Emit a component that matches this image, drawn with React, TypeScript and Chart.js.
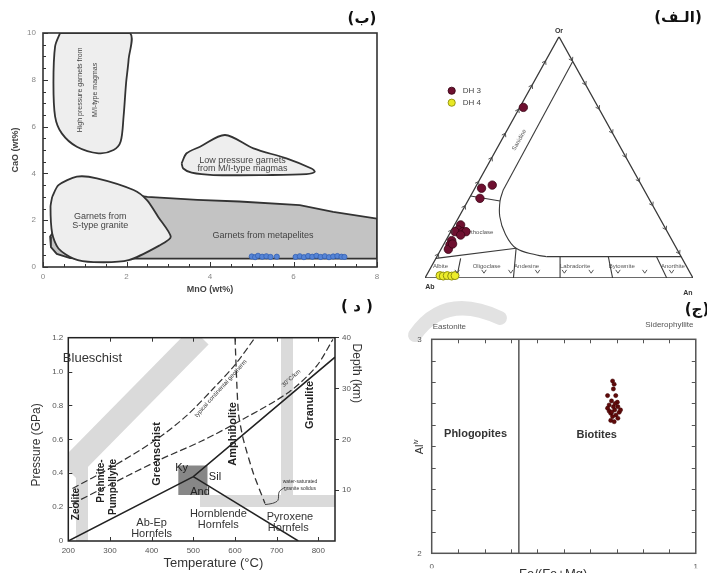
import React, { useEffect, useRef } from 'react';
import { Chart, registerables } from 'chart.js';

Chart.register(...registerables);

const W = 707;
const H = 573;
const SANS = '"Liberation Sans", Arial, Helvetica, sans-serif';
const ARAB = '"DejaVu Sans", sans-serif';
Chart.defaults.font.family = SANS;
Chart.defaults.color = '#555';

type Pt = [number, number];

// ---------- Panel (ب): garnet CaO vs MnO ----------
const garnetMnO = [5.0, 5.08, 5.15, 5.25, 5.35, 5.45, 5.6, 6.05, 6.15, 6.25, 6.35, 6.45, 6.55, 6.65, 6.75, 6.85, 6.95, 7.05, 7.15, 7.22];
const garnetCaO = [0.45, 0.42, 0.48, 0.44, 0.46, 0.43, 0.44, 0.43, 0.46, 0.42, 0.47, 0.44, 0.48, 0.43, 0.46, 0.42, 0.45, 0.47, 0.44, 0.43];
const highPressureField: Pt[] = [[0.41, 10], [0.29, 9.43], [0.25, 7.86], [0.29, 6.43], [0.45, 5.71], [0.81, 5.14], [1.33, 4.86], [1.69, 5.0], [1.86, 5.36], [1.93, 6.43], [1.99, 7.86], [2.05, 8.86], [2.07, 10], [0.41, 10]];
const lowPressureField: Pt[] = [[3.32, 4.43], [3.44, 4.86], [3.76, 5.14], [4.36, 5.64], [5.04, 5.07], [5.83, 4.64], [6.43, 4.21], [6.51, 4.07], [6.31, 3.97], [5.35, 3.93], [4.08, 3.93], [3.56, 4.03], [3.36, 4.21], [3.32, 4.43]];
const sTypeField: Pt[] = [[0.22, 3.0], [0.37, 3.5], [0.81, 3.86], [1.29, 3.79], [2.17, 3.29], [2.49, 2.86], [2.76, 2.14], [3.06, 1.29], [2.8, 0.93], [2.05, 0.29], [1.21, 0.21], [0.73, 0.36], [0.37, 0.79], [0.22, 1.43], [0.18, 2.57], [0.22, 3.0]];
const metapeliteField: Pt[] = [[0.25, 1.5], [0.17, 1.3], [0.19, 0.85], [0.33, 0.56], [0.65, 0.38], [1.0, 0.36], [8, 0.36], [8, 2.07], [6.95, 2.36], [6.15, 2.64], [4.7, 2.8], [3.7, 2.87], [2.5, 3.0], [2.2, 3.07], [1.2, 2.4], [0.25, 1.5]];

// ---------- Panel (الف): feldspar ternary (x = An + Or/2, y = Or) ----------
const dh3X = [0.367, 0.251, 0.211, 0.205, 0.133, 0.124, 0.112, 0.141, 0.153, 0.133, 0.0995, 0.093, 0.087, 0.103];
const dh3Y = [0.707, 0.385, 0.372, 0.33, 0.22, 0.199, 0.192, 0.192, 0.192, 0.178, 0.155, 0.137, 0.119, 0.141];
const dh4X = [0.056, 0.068, 0.083, 0.0995, 0.112];
const dh4Y = [0.01, 0.008, 0.01, 0.008, 0.01];
const triangle: Pt[] = [[0, 0], [1, 0], [0.5, 1], [0, 0]];
const sanidineLine: Pt[] = [[0.551, 0.897], [0.292, 0.365]];
const alkaliCurve: Pt[] = [[0.292, 0.365], [0.28, 0.319], [0.279, 0.255], [0.2985, 0.185], [0.34, 0.123], [0.4167, 0.0953], [0.454, 0.0884]];
const plagTopLine: Pt[] = [[0.454, 0.0884], [0.9558, 0.0884]];
const anorthoclaseLine: Pt[] = [[0.17, 0.34], [0.28, 0.319]];
const alkaliPlagLine: Pt[] = [[0.041, 0.0815], [0.34, 0.123]];
const plagDividers: Pt[][] = [
  [[0.133, 0.0815], [0.118, 0]],
  [[0.34, 0.123], [0.33, 0]],
  [[0.504, 0.0884], [0.504, 0]],
  [[0.684, 0.0884], [0.7, 0]],
  [[0.864, 0.0884], [0.902, 0]],
];

// ---------- Panel (د): P-T facies diagram ----------
const aluminosilicateBox: Pt[] = [[464, 0.445], [534, 0.445], [534, 0.272], [464, 0.272], [464, 0.445]];
const kyAndSil: Pt[] = [[200, 0], [500, 0.38], [840, 1.085]];
const andSil: Pt[] = [[500, 0.38], [752, 0]];
const continentalGeotherm: Pt[] = [[210, 0.31], [300, 0.43], [412, 0.6], [484, 0.74], [548, 0.9], [600, 1.04], [648, 1.2]];
const gradient30: Pt[] = [[210, 0.22], [420, 0.48], [520, 0.59], [620, 0.72], [730, 0.88], [795, 1.03], [835, 1.19]];
const graniteSolidus: Pt[] = [[600, 1.2], [608, 0.76], [620, 0.6], [644, 0.4], [672, 0.222]];
const solidusBrace: Pt[] = [[672, 0.215], [690, 0.222], [703, 0.24], [706, 0.29], [720, 0.318]];

// ---------- Panel (ج): biotite Al(iv) vs Fe/(Fe+Mg) ----------
const biotiteFe = [0.685, 0.691, 0.688, 0.666, 0.697, 0.681, 0.703, 0.672, 0.688, 0.705, 0.693, 0.672, 0.71, 0.678, 0.698, 0.685, 0.705, 0.678, 0.691, 0.715, 0.666, 0.695, 0.682];
const biotiteAl = [2.805, 2.79, 2.768, 2.737, 2.737, 2.712, 2.706, 2.693, 2.685, 2.685, 2.67, 2.665, 2.659, 2.654, 2.646, 2.639, 2.631, 2.621, 2.615, 2.67, 2.678, 2.7, 2.66];
const phlogopiteBiotiteBoundary: Pt[] = [[0.33, 2], [0.33, 3]];

// ---------- helpers ----------
const xy = (pts: Pt[]) => pts.map(([x, y]) => ({ x, y }));
const zip = (xs: number[], ys: number[]) => xs.map((x, i) => ({ x, y: ys[i] }));
const isMult = (v: number, m: number) => Math.abs(v / m - Math.round(v / m)) < 1e-6;
const lineDs = (pts: Pt[], o: any = {}) => ({
  data: xy(pts), showLine: true, pointRadius: 0, borderColor: '#333', borderWidth: 1.2,
  fill: false, tension: 0, ...o,
});

type TextItem = { t: string; x: number; y: number; font: string; color?: string; rot?: number; align?: CanvasTextAlign; px?: boolean; sup?: string };

const drawTexts = (chart: any, items: TextItem[]) => {
  const ctx = chart.ctx;
  const xs = chart.scales.x;
  const ys = chart.scales.y;
  ctx.save();
  for (const it of items) {
    const px = it.px ? it.x : xs.getPixelForValue(it.x);
    const py = it.px ? it.y : ys.getPixelForValue(it.y);
    ctx.save();
    ctx.translate(px, py);
    if (it.rot) ctx.rotate((it.rot * Math.PI) / 180);
    ctx.font = it.font;
    ctx.fillStyle = it.color || '#333';
    ctx.textBaseline = 'middle';
    if (it.sup) {
      const w1 = ctx.measureText(it.t).width;
      const f2 = it.font.replace(/(\d+(\.\d+)?)px/, (m: string, n: string) => `${Math.round(parseFloat(n) * 0.65)}px`);
      ctx.font = f2;
      const w2 = ctx.measureText(it.sup).width;
      const start = -(w1 + w2) / 2;
      ctx.textAlign = 'left';
      ctx.font = it.font;
      ctx.fillText(it.t, start, 0);
      ctx.font = f2;
      ctx.fillText(it.sup, start + w1, -4);
    } else {
      ctx.textAlign = it.align || 'center';
      ctx.fillText(it.t, 0, 0);
    }
    ctx.restore();
  }
  ctx.restore();
};

const textPlugin = (items: TextItem[], before = false) => ({
  id: before ? 'textsBefore' : 'texts',
  [before ? 'beforeDatasetsDraw' : 'afterDatasetsDraw']: (chart: any) => drawTexts(chart, items),
});

const framePlugin = (color: string, width: number) => ({
  id: 'frame',
  afterDatasetsDraw(chart: any) {
    const a = chart.chartArea;
    const ctx = chart.ctx;
    ctx.save();
    ctx.strokeStyle = color;
    ctx.lineWidth = width;
    ctx.strokeRect(a.left, a.top, a.right - a.left, a.bottom - a.top);
    ctx.restore();
  },
});

type TickSpec = { scale: string; sides: string[]; len: (v: number) => number; color?: string };
const inTicksPlugin = (specs: TickSpec[]) => ({
  id: 'inTicks',
  afterDatasetsDraw(chart: any) {
    const ctx = chart.ctx;
    const a = chart.chartArea;
    ctx.save();
    ctx.lineWidth = 1;
    for (const sp of specs) {
      const sc = chart.scales[sp.scale];
      ctx.strokeStyle = sp.color || '#333';
      for (const t of sc.ticks) {
        const L = sp.len(t.value);
        if (!L) continue;
        const p = Math.round(sc.getPixelForValue(t.value)) + 0.5;
        for (const side of sp.sides) {
          ctx.beginPath();
          if (side === 'bottom') { ctx.moveTo(p, a.bottom); ctx.lineTo(p, a.bottom - L); }
          if (side === 'top') { ctx.moveTo(p, a.top); ctx.lineTo(p, a.top + L); }
          if (side === 'left') { ctx.moveTo(a.left, p); ctx.lineTo(a.left + L, p); }
          if (side === 'right') { ctx.moveTo(a.right, p); ctx.lineTo(a.right - L, p); }
          ctx.stroke();
        }
      }
    }
    ctx.restore();
  },
});

const baseOptions = (padding: any, scales: any) => ({
  responsive: false,
  animation: false,
  events: [],
  layout: { padding },
  plugins: { legend: { display: false }, tooltip: { enabled: false } },
  scales,
});

const hiddenGrid = { display: false, drawTicks: false };

// ---------- Chart builders ----------
function makeGarnet(canvas: HTMLCanvasElement) {
  const texts: TextItem[] = [
    { t: 'High pressure garnets from', x: 0.89, y: 7.57, rot: -90, font: `7px ${SANS}`, color: '#444' },
    { t: 'M/I-type magmas', x: 1.25, y: 7.57, rot: -90, font: `7px ${SANS}`, color: '#444' },
    { t: 'Low pressure garnets', x: 4.78, y: 4.57, font: `9px ${SANS}`, color: '#444' },
    { t: 'from M/I-type magmas', x: 4.78, y: 4.19, font: `9px ${SANS}`, color: '#444' },
    { t: 'Garnets from', x: 1.37, y: 2.17, font: `9px ${SANS}`, color: '#444' },
    { t: 'S-type granite', x: 1.37, y: 1.77, font: `9px ${SANS}`, color: '#444' },
    { t: 'Garnets from metapelites', x: 5.27, y: 1.36, font: `9px ${SANS}`, color: '#444' },
    { t: 'CaO (wt%)', x: -0.67, y: 5.0, rot: -90, font: `bold 9px ${SANS}`, color: '#444' },
    { t: 'MnO (wt%)', x: 4, y: -0.98, font: `bold 9px ${SANS}`, color: '#444' },
    { t: '(ب)', x: 362, y: 19, px: true, font: `bold 15px ${ARAB}`, color: '#111' },
  ];
  return new Chart(canvas, {
    type: 'scatter',
    data: {
      datasets: [
        { data: zip(garnetMnO, garnetCaO), pointRadius: 2.6, pointBackgroundColor: '#5584d6', pointBorderColor: '#3561b3', pointBorderWidth: 0.8, order: 0, clip: false },
        lineDs(highPressureField, { fill: 'shape', backgroundColor: '#eeeeee', borderColor: '#333', borderWidth: 1.8, tension: 0.3, order: 3 }),
        lineDs(lowPressureField, { fill: 'shape', backgroundColor: '#eeeeee', borderColor: '#333', borderWidth: 1.8, tension: 0.3, order: 3 }),
        lineDs(sTypeField, { fill: 'shape', backgroundColor: '#eeeeee', borderColor: '#333', borderWidth: 1.8, tension: 0.25, order: 4 }),
        lineDs(metapeliteField, { fill: 'shape', backgroundColor: '#c3c3c3', borderColor: '#333', borderWidth: 1.8, order: 5 }),
      ],
    },
    options: baseOptions({ left: 13, right: 330, top: 33, bottom: 276 }, {
      x: {
        type: 'linear', min: 0, max: 8, afterFit: (s: any) => { s.height = 30; },
        grid: hiddenGrid, border: { display: false },
        ticks: { stepSize: 0.5, autoSkip: false, maxRotation: 0, includeBounds: false, padding: 5, color: '#888', font: { size: 8 }, callback: (v: number) => (isMult(v, 2) ? String(v) : '') },
      },
      y: {
        type: 'linear', min: 0, max: 10, afterFit: (s: any) => { s.width = 30; },
        grid: hiddenGrid, border: { display: false },
        ticks: { stepSize: 0.5, autoSkip: false, includeBounds: false, padding: 7, color: '#888', font: { size: 8 }, callback: (v: number) => (isMult(v, 2) ? String(v) : '') },
      },
    }) as any,
    plugins: [
      framePlugin('#333', 1.6),
      inTicksPlugin([
        { scale: 'x', sides: ['bottom'], len: (v) => (isMult(v, 2) ? 5 : 3) },
        { scale: 'y', sides: ['left'], len: (v) => (isMult(v, 2) ? 5 : 3) },
      ]),
      textPlugin(texts),
    ],
  });
}

function makeTernary(canvas: HTMLCanvasElement) {
  const small = `6px ${SANS}`;
  const texts: TextItem[] = [
    { t: 'Or', x: 0.5, y: 1.024, font: `bold 7px ${SANS}`, color: '#333' },
    { t: 'Ab', x: 0.018, y: -0.037, font: `bold 7px ${SANS}`, color: '#333' },
    { t: 'An', x: 0.981, y: -0.062, font: `bold 7px ${SANS}`, color: '#333' },
    { t: 'Albite', x: 0.058, y: 0.05, font: small, color: '#555' },
    { t: 'Oligoclase', x: 0.23, y: 0.05, font: small, color: '#555' },
    { t: 'Andesine', x: 0.379, y: 0.05, font: small, color: '#555' },
    { t: 'Labradorite', x: 0.56, y: 0.05, font: small, color: '#555' },
    { t: 'Bytownite', x: 0.734, y: 0.05, font: small, color: '#555' },
    { t: 'Anorthite', x: 0.925, y: 0.05, font: small, color: '#555' },
    { t: 'Sanidine', x: 0.352, y: 0.572, rot: -61, font: small, color: '#555' },
    { t: 'Anorthoclase', x: 0.19, y: 0.19, font: small, color: '#555' },
    { t: 'DH 3', x: 0.1407, y: 0.776, align: 'left', font: `8px ${SANS}`, color: '#444' },
    { t: 'DH 4', x: 0.1407, y: 0.7265, align: 'left', font: `8px ${SANS}`, color: '#444' },
    { t: '(الـف)', x: 678, y: 18, px: true, font: `bold 15px ${ARAB}`, color: '#111' },
  ];
  const marks = {
    id: 'ternaryMarks',
    afterDatasetsDraw(chart: any) {
      const ctx = chart.ctx;
      const xs = chart.scales.x;
      const ys = chart.scales.y;
      const P = (x: number, y: number) => [xs.getPixelForValue(x), ys.getPixelForValue(y)];
      const chevron = (px: number, py: number, ang: number, size: number) => {
        ctx.beginPath();
        ctx.moveTo(px + size * Math.cos(ang + 0.6), py + size * Math.sin(ang + 0.6));
        ctx.lineTo(px, py);
        ctx.lineTo(px + size * Math.cos(ang - 0.6), py + size * Math.sin(ang - 0.6));
        ctx.stroke();
      };
      ctx.save();
      ctx.strokeStyle = '#444';
      ctx.lineWidth = 0.9;
      const edges: [Pt, Pt][] = [[[0, 0], [0.5, 1]], [[0.5, 1], [1, 0]]];
      for (const [a, b] of edges) {
        const [ax, ay] = P(a[0], a[1]);
        const [bx, by] = P(b[0], b[1]);
        const back = Math.atan2(ay - by, ax - bx);
        for (let f = 0.1; f < 0.95; f += 0.1) {
          chevron(ax + (bx - ax) * f, ay + (by - ay) * f, back, 4);
        }
      }
      for (let f = 0.1; f < 0.95; f += 0.1) {
        const [px, py] = P(f + 0.02, 0.02);
        chevron(px, py, -Math.PI / 2, 4);
      }
      // legend markers
      const [l1x, l1y] = P(0.0996, 0.776);
      const [l2x, l2y] = P(0.0996, 0.7265);
      ctx.beginPath(); ctx.arc(l1x, l1y, 3.6, 0, Math.PI * 2);
      ctx.fillStyle = '#6e1030'; ctx.fill(); ctx.strokeStyle = '#3a0515'; ctx.stroke();
      ctx.beginPath(); ctx.arc(l2x, l2y, 3.6, 0, Math.PI * 2);
      ctx.fillStyle = '#e8e824'; ctx.fill(); ctx.strokeStyle = '#8f8f10'; ctx.stroke();
      ctx.restore();
    },
  };
  const lc = { borderColor: '#3a3a3a', borderWidth: 1.1 };
  return new Chart(canvas, {
    type: 'scatter',
    data: {
      datasets: [
        { data: zip(dh3X, dh3Y), pointRadius: 4.2, pointBackgroundColor: '#6e1030', pointBorderColor: '#3a0515', pointBorderWidth: 0.8, order: 0, clip: false },
        { data: zip(dh4X, dh4Y), pointRadius: 4, pointBackgroundColor: '#eded2a', pointBorderColor: '#8f8f10', pointBorderWidth: 1, order: 1, clip: false },
        lineDs(triangle, { ...lc, borderWidth: 1.3, order: 5 }),
        lineDs(sanidineLine, { ...lc, order: 5 }),
        lineDs(alkaliCurve, { ...lc, tension: 0.4, order: 5 }),
        lineDs(plagTopLine, { ...lc, order: 5 }),
        lineDs(anorthoclaseLine, { ...lc, order: 5 }),
        lineDs(alkaliPlagLine, { ...lc, order: 5 }),
        ...plagDividers.map((d) => lineDs(d, { ...lc, order: 5 })),
      ],
    },
    options: baseOptions({ left: 425, right: 14, top: 36.7, bottom: 295 }, {
      x: { type: 'linear', min: 0, max: 1, display: false },
      y: { type: 'linear', min: 0, max: 1, display: false },
    }) as any,
    plugins: [textPlugin(texts, true), marks],
  });
}

function makePT(canvas: HTMLCanvasElement) {
  const bold = (s: number) => `bold ${s}px ${SANS}`;
  const reg = (s: number) => `${s}px ${SANS}`;
  const texts: TextItem[] = [
    { t: 'Blueschist', x: 258, y: 1.08, font: reg(13), color: '#333' },
    { t: 'Zeolite', x: 218.5, y: 0.218, rot: -90, font: bold(10), color: '#222' },
    { t: 'Prehnite-', x: 280, y: 0.354, rot: -90, font: bold(10), color: '#222' },
    { t: 'Pumpellyite', x: 308, y: 0.319, rot: -90, font: bold(10), color: '#222' },
    { t: 'Greenschist', x: 412, y: 0.514, rot: -90, font: bold(11), color: '#222' },
    { t: 'Amphibolite', x: 596, y: 0.632, rot: -90, font: bold(11), color: '#222' },
    { t: 'Granulite', x: 780, y: 0.803, rot: -90, font: bold(11), color: '#222' },
    { t: 'Ky', x: 472, y: 0.43, font: reg(11), color: '#222' },
    { t: 'Sil', x: 552, y: 0.38, font: reg(11), color: '#222' },
    { t: 'And', x: 516, y: 0.29, font: reg(11), color: '#222' },
    { t: 'Ab-Ep', x: 400, y: 0.104, font: reg(11), color: '#333' },
    { t: 'Hornfels', x: 400, y: 0.04, font: reg(11), color: '#333' },
    { t: 'Hornblende', x: 560, y: 0.158, font: reg(11), color: '#333' },
    { t: 'Hornfels', x: 560, y: 0.094, font: reg(11), color: '#333' },
    { t: 'Pyroxene', x: 732, y: 0.143, font: reg(11), color: '#333' },
    { t: 'Hornfels', x: 728, y: 0.075, font: reg(11), color: '#333' },
    { t: 'water-saturated', x: 756, y: 0.35, font: reg(5), color: '#333' },
    { t: 'granite solidus', x: 756, y: 0.311, font: reg(5), color: '#333' },
    { t: 'typical continental geotherm', x: 566, y: 0.9, rot: -48, font: reg(6), color: '#333' },
    { t: '30°C/km', x: 735, y: 0.96, rot: -42, font: reg(6), color: '#333' },
    { t: 'Pressure (GPa)', x: 124, y: 0.567, rot: -90, font: reg(12), color: '#333' },
    { t: 'Temperature (°C)', x: 548, y: -0.132, font: reg(13), color: '#333' },
    { t: 'Depth (km)', x: 890.5, y: 0.99, rot: 90, font: reg(12), color: '#333' },
    { t: '( د )', x: 357, y: 307, px: true, font: `bold 15px ${ARAB}`, color: '#111' },
  ];
  const watermark = {
    id: 'watermark',
    beforeDatasetsDraw(chart: any) {
      const ctx = chart.ctx;
      const a = chart.chartArea;
      const band = (pts: Pt[], w: number) => {
        ctx.lineWidth = w;
        ctx.beginPath();
        pts.forEach(([x, y], i) => (i ? ctx.lineTo(x, y) : ctx.moveTo(x, y)));
        ctx.stroke();
      };
      ctx.save();
      ctx.beginPath();
      ctx.rect(a.left, a.top, a.right - a.left, a.bottom - a.top);
      ctx.clip();
      ctx.strokeStyle = '#dadada';
      ctx.lineCap = 'butt';
      band([[68, 470], [200, 336]], 24);
      band([[82, 455], [82, 541]], 12);
      band([[287, 337], [287, 500]], 12);
      band([[200, 501], [335, 501]], 12);
      ctx.restore();
      ctx.save();
      ctx.strokeStyle = '#e2e2e2';
      ctx.lineCap = 'round';
      ctx.lineWidth = 14;
      ctx.beginPath();
      ctx.moveTo(500, 318);
      ctx.quadraticCurveTo(445, 292, 415, 335);
      ctx.stroke();
      ctx.restore();
    },
  };
  return new Chart(canvas, {
    type: 'scatter',
    data: {
      datasets: [
        lineDs(kyAndSil, { borderColor: '#222', borderWidth: 1.5, order: 1 }),
        lineDs(andSil, { borderColor: '#222', borderWidth: 1.5, order: 1 }),
        lineDs(continentalGeotherm, { borderColor: '#333', borderWidth: 1.2, borderDash: [7, 3], tension: 0.3, order: 1 }),
        lineDs(gradient30, { borderColor: '#333', borderWidth: 1.2, borderDash: [7, 3], tension: 0.3, order: 1 }),
        lineDs(graniteSolidus, { borderColor: '#333', borderWidth: 1.3, borderDash: [7, 4], tension: 0.2, order: 1 }),
        lineDs(solidusBrace, { borderColor: '#333', borderWidth: 0.9, tension: 0.3, order: 1 }),
        lineDs(aluminosilicateBox, { fill: 'shape', backgroundColor: '#878787', borderWidth: 0, borderColor: 'rgba(0,0,0,0)', order: 8 }),
      ],
    },
    options: baseOptions({ left: 48.3, right: 354, top: 337.7, bottom: 18 }, {
      x: {
        type: 'linear', min: 200, max: 840, afterFit: (s: any) => { s.height = 14; },
        grid: hiddenGrid, border: { display: false },
        ticks: { stepSize: 100, autoSkip: false, maxRotation: 0, includeBounds: false, padding: 5, color: '#555', font: { size: 8 }, callback: (v: number) => (isMult(v, 100) ? String(v) : '') },
      },
      y: {
        type: 'linear', min: 0, max: 1.2, afterFit: (s: any) => { s.width = 20; },
        grid: hiddenGrid, border: { display: false },
        ticks: { stepSize: 0.2, autoSkip: false, includeBounds: false, padding: 5, color: '#555', font: { size: 8 }, callback: (v: number) => (v === 0 ? '0' : v.toFixed(1)) },
      },
      y2: {
        type: 'linear', position: 'right', min: 0, max: 40, afterFit: (s: any) => { s.width = 18; },
        grid: { display: true, drawOnChartArea: false, drawTicks: true, tickLength: 4, color: (c: any) => (c.tick && c.tick.value === 0 ? 'rgba(0,0,0,0)' : '#333') },
        border: { display: false },
        ticks: { stepSize: 10, autoSkip: false, padding: 3, color: '#555', font: { size: 8 }, callback: (v: number) => (v === 0 ? '' : String(v)) },
      },
    }) as any,
    plugins: [
      watermark,
      framePlugin('#222', 1.5),
      inTicksPlugin([
        { scale: 'x', sides: ['bottom', 'top'], len: (v) => (isMult(v, 100) && v > 200 && v < 840 ? 4 : 0) },
        { scale: 'y', sides: ['left'], len: (v) => (v > 0 && v < 1.2 ? 4 : 0) },
      ]),
      textPlugin(texts),
    ],
  });
}

function makeBiotite(canvas: HTMLCanvasElement) {
  const texts: TextItem[] = [
    { t: 'Eastonite', x: 0.067, y: 3.057, font: `8px ${SANS}`, color: '#555' },
    { t: 'Siderophyllite', x: 0.9, y: 3.067, font: `8px ${SANS}`, color: '#555' },
    { t: 'Phlogopites', x: 0.166, y: 2.557, font: `bold 11px ${SANS}`, color: '#333' },
    { t: 'Biotites', x: 0.625, y: 2.553, font: `bold 11px ${SANS}`, color: '#333' },
    { t: 'Fe/(Fe+Mg)', x: 0.46, y: 1.9, font: `13px ${SANS}`, color: '#333' },
    { t: 'Al', sup: 'iv', x: -0.043, y: 2.497, rot: -90, font: `11px ${SANS}`, color: '#333' },
    { t: '(ج)', x: 697, y: 310, px: true, font: `bold 15px ${ARAB}`, color: '#111' },
  ];
  return new Chart(canvas, {
    type: 'scatter',
    data: {
      datasets: [
        { data: zip(biotiteFe, biotiteAl), pointRadius: 2.1, pointBackgroundColor: '#600a0a', pointBorderColor: '#3a0000', pointBorderWidth: 0.5, order: 0 },
        lineDs(phlogopiteBiotiteBoundary, { borderColor: '#555', borderWidth: 1.5, order: 2 }),
      ],
    },
    options: baseOptions({ left: 406.7, right: 2.7, top: 339.3, bottom: 4.7 }, {
      x: {
        type: 'linear', min: 0, max: 1, afterFit: (s: any) => { s.height = 15; },
        grid: hiddenGrid, border: { display: false },
        ticks: { stepSize: 0.1, autoSkip: false, maxRotation: 0, padding: 9, color: '#555', font: { size: 8 }, callback: (v: number) => (isMult(v, 1) ? String(v) : '') },
      },
      y: {
        type: 'linear', min: 2, max: 3, afterFit: (s: any) => { s.width = 25; },
        grid: hiddenGrid, border: { display: false },
        ticks: { stepSize: 0.1, autoSkip: false, padding: 10, color: '#555', font: { size: 8 }, callback: (v: number) => (isMult(v, 1) ? String(v) : '') },
      },
    }) as any,
    plugins: [
      framePlugin('#555', 1.5),
      inTicksPlugin([
        { scale: 'x', sides: ['bottom', 'top'], len: (v) => (v > 0.01 && v < 0.99 ? 4 : 0), color: '#555' },
        { scale: 'y', sides: ['left', 'right'], len: (v) => (v > 2.01 && v < 2.99 ? 4 : 0), color: '#555' },
      ]),
      textPlugin(texts),
    ],
  });
}

export default function App() {
  const rPT = useRef<HTMLCanvasElement>(null);
  const rGarnet = useRef<HTMLCanvasElement>(null);
  const rTern = useRef<HTMLCanvasElement>(null);
  const rBio = useRef<HTMLCanvasElement>(null);

  useEffect(() => {
    const charts = [
      makePT(rPT.current!),
      makeGarnet(rGarnet.current!),
      makeTernary(rTern.current!),
      makeBiotite(rBio.current!),
    ];
    return () => charts.forEach((c) => c.destroy());
  }, []);

  const cs: React.CSSProperties = { position: 'absolute', left: 0, top: 0 };
  return (
    <div style={{ position: 'absolute', left: 0, top: 0, width: W, height: H, background: '#fff', overflow: 'hidden' }}>
      <canvas ref={rPT} width={W} height={H} style={cs} />
      <canvas ref={rGarnet} width={W} height={H} style={cs} />
      <canvas ref={rTern} width={W} height={H} style={cs} />
      <canvas ref={rBio} width={W} height={H} style={cs} />
    </div>
  );
}
